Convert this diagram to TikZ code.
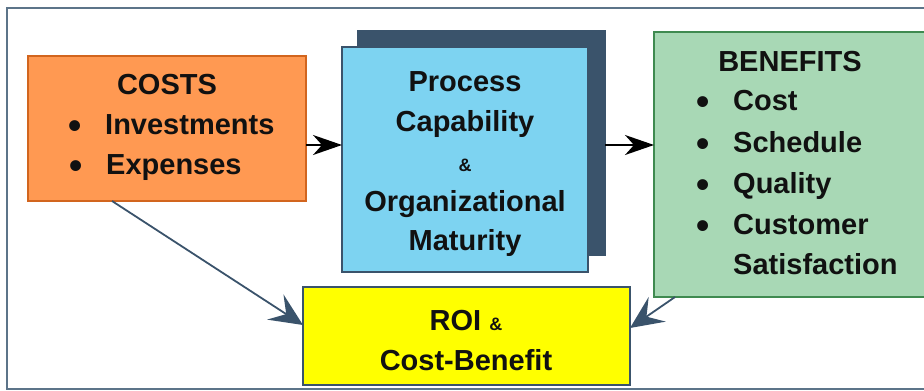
\documentclass[tikz,border=0pt]{standalone}
\usepackage{fontspec}
\setmainfont{Liberation Sans}
\usetikzlibrary{arrows.meta,calc}
\definecolor{frameC}{HTML}{5C7489}
\definecolor{slateC}{HTML}{3A536B}
\definecolor{orangeF}{HTML}{FF9952}
\definecolor{orangeD}{HTML}{D2651E}
\definecolor{blueF}{HTML}{7DD3F1}
\definecolor{greenF}{HTML}{A8D8B5}
\definecolor{greenD}{HTML}{3F8A50}
\definecolor{yellowF}{HTML}{FFFF00}
\definecolor{txtC}{HTML}{111111}
\newcommand\bulitem[1]{\llap{\makebox[0pt]{\raisebox{-4.5pt}{\scalebox{1.3}{•}}}\hspace{30pt}}#1}
\begin{document}
\begin{tikzpicture}[x=1pt,y=-1pt,
  box/.style={draw, line width=1.6pt, inner sep=0pt, outer sep=0pt, anchor=north west},
  txt/.style={inner sep=0pt, font=\fontsize{29}{35}\selectfont\bfseries, text=txtC},
  smalltxt/.style={inner sep=0pt, font=\fontsize{18}{20}\selectfont\bfseries, text=txtC},
  blackarrow/.style={line width=1.5pt, -{Stealth[length=29pt,width=20pt,inset=9pt]}},
  slatearrow/.style={draw=slateC, line width=1.8pt, -{Stealth[length=33pt,width=30pt,inset=13pt]}, color=slateC}
]
\useasboundingbox (0,0) rectangle (924,391);
\draw[frameC, line width=1.5pt] (7,8) rectangle (960,389);

\node[box, draw=orangeD, fill=orangeF, minimum width=278pt, minimum height=145pt] (costs) at (28,56) {};
\node[box, draw=slateC, fill=slateC, minimum width=247pt, minimum height=224pt] (shadow) at (358,31) {};
\node[box, draw=slateC, fill=blueF, minimum width=246pt, minimum height=225pt] (proc) at (342,47) {};
\node[box, draw=greenD, fill=greenF, minimum width=300pt, minimum height=265pt] (bene) at (654,32) {};
\node[box, draw=slateC, fill=yellowF, minimum width=327pt, minimum height=98pt] (roi) at (303,287) {};

% COSTS text
\node[txt, anchor=base] (c0) at (167,94) {COSTS};
\node[txt, anchor=base west] (c1) at (105,134) {\bulitem{Investments}};
\node[txt, anchor=base west] (c2) at (106,174) {\bulitem{Expenses}};

% Process text
\node[txt, anchor=base] (p0) at (465,91) {Process};
\node[txt, anchor=base] (p1) at (465,131) {Capability};
\node[smalltxt, anchor=base] (p2) at (465,171) {\&};
\node[txt, anchor=base] (p3) at (465,211) {Organizational};
\node[txt, anchor=base] (p4) at (465,250) {Maturity};

% BENEFITS text
\node[txt, anchor=base] (b0) at (790,71) {BENEFITS};
\node[txt, anchor=base west] (b1) at (733,110) {\bulitem{Cost}};
\node[txt, anchor=base west] (b2) at (733,152) {\bulitem{Schedule}};
\node[txt, anchor=base west] (b3) at (733,193) {\bulitem{Quality}};
\node[txt, anchor=base west] (b4) at (733,234) {\bulitem{Customer}};
\node[txt, anchor=base west] (b5) at (733,274) {Satisfaction};

% ROI text
\node[txt, anchor=base] (r0) at (466,330) {ROI {\fontsize{18}{20}\selectfont\&}};
\node[txt, anchor=base] (r1) at (466,370) {Cost-Benefit};

% connectors
\coordinate (ay) at ($(costs.east)+(0,16.5)$);
\draw[blackarrow] (ay) -- (ay -| proc.west);
\draw[blackarrow] (ay -| shadow.east) -- (ay -| bene.west);
\draw[slatearrow] ($(costs.south west)+(84,0)$) -- ($(roi.north west)+(0,38)$);
\draw[slatearrow] ($(bene.south west)+(21,0)$) -- ($(roi.north east)+(0,41)$);
\end{tikzpicture}
\end{document}
